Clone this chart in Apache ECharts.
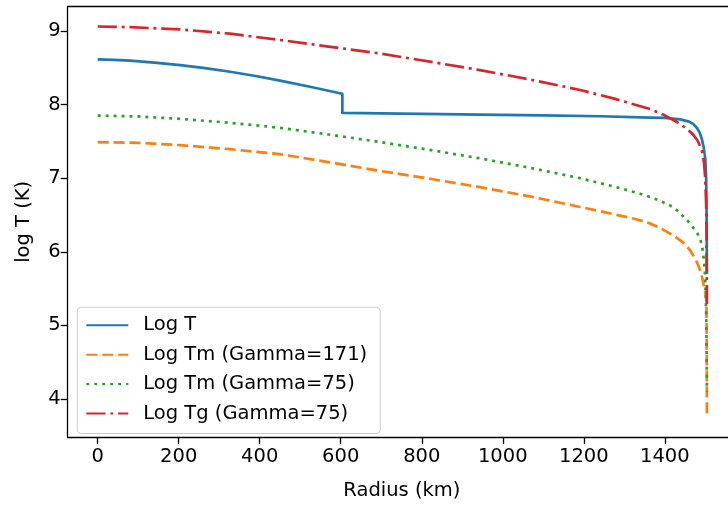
<!DOCTYPE html>
<html>
<head>
<meta charset="utf-8">
<script src="https://cdn.jsdelivr.net/npm/echarts@6/dist/echarts.min.js"></script>
<style>
html,body{margin:0;padding:0;background:#fff;}
#chart{width:728px;height:506px;}
</style>
</head>
<body>
<div id="chart"></div>
<script>
// Log T
var rT = [0,40,80,140,204,265,327,390,450,527,604,604,700,800,944,1100,1241,1364,1400,1438,1460,1470,1479,1486,1491.6,1496,1500,1502,1503,1504];
var vT = [8.615,8.61,8.598,8.572,8.538,8.496,8.448,8.39,8.327,8.24,8.148,7.888,7.882,7.876,7.865,7.855,7.843,7.825,7.82,7.80,7.77,7.74,7.686,7.62,7.53,7.42,7.26,7.0,6.6,5.7];
// Log Tm (Gamma=171)
var rTm171 = [0,100,204,327,450,570,697,820,944,1070,1191,1240,1280,1310,1339,1365,1389,1421,1440,1451,1462,1471,1480,1488,1492,1495,1499,1502,1503,1504];
var vTm171 = [7.49,7.482,7.45,7.395,7.327,7.22,7.10,6.993,6.879,6.75,6.61,6.553,6.503,6.468,6.429,6.383,6.322,6.223,6.15,6.093,6.025,5.941,5.85,5.739,5.655,5.575,5.47,5.38,5.25,3.74];
// Log Tm (Gamma=75)
var rTm75 = [0,100,204,327,450,570,697,820,944,1070,1191,1280,1339,1364,1390,1413,1430,1442,1456,1470,1480,1488,1492,1495,1498,1500,1502,1503,1504];
var vTm75 = [7.852,7.84,7.807,7.754,7.686,7.595,7.493,7.385,7.27,7.14,7.0,6.88,6.789,6.744,6.69,6.63,6.565,6.50,6.425,6.33,6.255,6.16,6.08,5.96,5.8,5.6,5.2,4.8,4.1];
// Log Tg (Gamma=75)
var rTg = [0,80,204,327,450,570,697,820,944,1070,1191,1280,1364,1400,1430,1450,1469,1480,1488,1493,1497,1500,1502,1503,1504];
var vTg = [9.063,9.054,9.023,8.965,8.88,8.79,8.696,8.585,8.47,8.34,8.20,8.075,7.94,7.855,7.765,7.69,7.60,7.52,7.43,7.34,7.2,6.98,6.65,6.3,5.28];

var seriesNames = ['Log T','Log Tm (Gamma=171)','Log Tm (Gamma=75)','Log Tg (Gamma=75)'];
var xTicks = [0,200,400,600,800,1000,1200,1400];
var yTicks = [4,5,6,7,8,9];

function pairs(r, v){ return r.map(function(x,i){ return [x, v[i]]; }); }

var FONT = 'DejaVu Sans';
var FS = 19.5;
var LW = 2.7;
var colors = ['#1f77b4','#ff7f0e','#2ca02c','#d62728'];
var dashes = ['solid',[11.1,4.8],[3,4.95],[19.2,4.8,3,4.8]];
var datas = [pairs(rT,vT), pairs(rTm171,vTm171), pairs(rTm75,vTm75), pairs(rTg,vTg)];

var chart = echarts.init(document.getElementById('chart'), null, {renderer:'canvas'});
var option = {
  animation: false,
  backgroundColor: '#ffffff',
  textStyle: {fontFamily: FONT},
  grid: {left: 67.7, top: 6.7, right: 0, bottom: 65.3, containLabel: false},
  legend: {
    orient: 'vertical',
    left: 77.3, top: 307.3,
    padding: [8, 13, 10, 8],
    itemWidth: 42, itemHeight: 19.5,
    itemGap: 9.4,
    backgroundColor: 'rgba(255,255,255,0.8)',
    borderColor: '#cccccc', borderWidth: 1, borderRadius: 4,
    itemStyle: {opacity: 0},
    textStyle: {fontFamily: FONT, fontSize: FS, color: '#000', padding: [0,0,0,10]},
    data: seriesNames
  },
  xAxis: [{
    type: 'value', min: -74, max: 1556,
    name: 'Radius (km)', nameLocation: 'middle', nameGap: 44,
    nameTextStyle: {fontFamily: FONT, fontSize: FS, color: '#000', padding: [0,0,0,8], verticalAlign: 'top'},
    axisLine: {show: true, onZero: false, lineStyle: {color: '#000', width: 1.3}},
    axisTick: {show: true, length: 7, lineStyle: {color: '#000', width: 1.3}, customValues: xTicks},
    axisLabel: {fontFamily: FONT, fontSize: FS, color: '#000', margin: 10, customValues: xTicks,
      formatter: function(v){ return String(v); }},
    splitLine: {show: false}
  },{
    type: 'value', position: 'top', min: -74, max: 1556,
    axisLine: {show: true, onZero: false, lineStyle: {color: '#000', width: 1.3}},
    axisTick: {show: false}, axisLabel: {show: false}, splitLine: {show: false}
  }],
  yAxis: {
    type: 'value', min: 3.483, max: 9.332,
    name: 'log T (K)', nameLocation: 'middle', nameGap: 34, nameRotate: 90,
    nameTextStyle: {fontFamily: FONT, fontSize: FS, color: '#000', verticalAlign: 'bottom'},
    axisLine: {show: true, onZero: false, lineStyle: {color: '#000', width: 1.3}},
    axisTick: {show: true, length: 7, lineStyle: {color: '#000', width: 1.3}, customValues: yTicks},
    axisLabel: {fontFamily: FONT, fontSize: FS, color: '#000', margin: 7, customValues: yTicks,
      formatter: function(v){ return String(v); }},
    splitLine: {show: false}
  },
  series: seriesNames.map(function(n,i){
    return {
      name: n, type: 'line', data: datas[i],
      xAxisIndex: 0,
      showSymbol: false, symbol: 'none', smooth: false,
      lineStyle: {color: colors[i], width: LW, type: dashes[i], cap: 'butt', join: 'round'},
      itemStyle: {color: colors[i]},
      clip: true
    };
  })
};
chart.setOption(option);
</script>
</body>
</html>
